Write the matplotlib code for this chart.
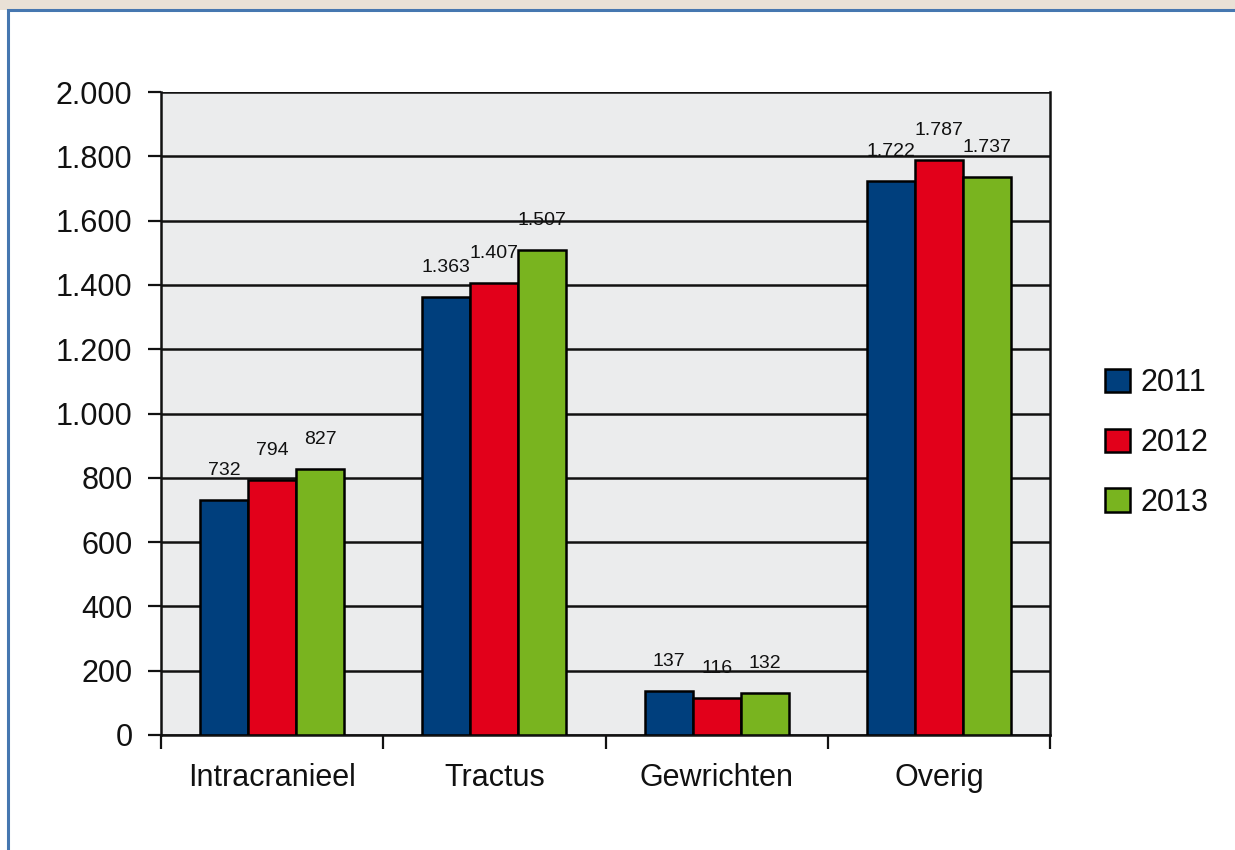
import matplotlib
matplotlib.use("Agg")
import matplotlib.pyplot as plt
import numpy as np
from matplotlib.patches import Rectangle
from matplotlib.ticker import FuncFormatter, FixedLocator

plt.rcParams['font.family'] = ['Liberation Sans', 'DejaVu Sans']

categories = ["Intracranieel", "Tractus", "Gewrichten", "Overig"]
years = ["2011", "2012", "2013"]
values_2011 = [732, 1363, 137, 1722]
values_2012 = [794, 1407, 116, 1787]
values_2013 = [827, 1507, 132, 1737]
series = [values_2011, values_2012, values_2013]
colors = ["#003f7d", "#e2001a", "#79b41f"]
yticks = [0, 200, 400, 600, 800, 1000, 1200, 1400, 1600, 1800, 2000]


def dutch(v):
    return f"{int(v):,}".replace(",", ".")


fig = plt.figure(figsize=(12.35, 8.5), dpi=100)
fig.patch.set_facecolor("white")

# page strip and frame around the chart
fig.patches.append(Rectangle((0, 0.988), 1, 0.012, transform=fig.transFigure,
                             facecolor="#e9e1d6", edgecolor="none", zorder=0))
fig.patches.append(Rectangle((0.0065, -0.01), 1.1, 0.9985, transform=fig.transFigure,
                             facecolor="none", edgecolor="#4677b0", linewidth=2.2, zorder=1))

ax = fig.add_axes([161 / 1235, 1 - 735 / 850, 889 / 1235, 643 / 850])
ax.set_facecolor("#ebeced")

x = np.arange(len(categories))
w = 0.216
for i, (vals, col) in enumerate(zip(series, colors)):
    pos = x + (i - 1) * w
    ax.bar(pos, vals, width=w, color=col, edgecolor="black", linewidth=1.8,
           label=years[i], zorder=3)
    for p, v in zip(pos, vals):
        ax.annotate(dutch(v), (p, v), xytext=(0, 18),
                    textcoords="offset points", ha="center", va="baseline",
                    fontsize=14, color="#111111", zorder=4)

ax.set_xlim(-0.5, 3.5)
ax.set_ylim(0, 2000)
ax.yaxis.set_major_locator(FixedLocator(yticks))
ax.yaxis.set_major_formatter(FuncFormatter(lambda v, _: dutch(v)))
ax.grid(axis="y", color="#111111", linewidth=1.8, zorder=1)
ax.set_axisbelow(True)

ax.set_xticks(x)
ax.set_xticklabels(categories, fontsize=22, color="#111111")
ax.tick_params(axis="x", length=0, pad=20)
ax.set_xticks(np.arange(-0.5, 4, 1), minor=True)
ax.tick_params(axis="x", which="minor", length=10, width=1.6, color="#111111")
ax.tick_params(axis="y", length=9.5, width=1.6, color="#111111", labelsize=22,
               labelcolor="#111111", pad=11)

for s in ["left", "right", "bottom"]:
    ax.spines[s].set_linewidth(1.8)
    ax.spines[s].set_color("#111111")
ax.spines["top"].set_visible(False)

leg = fig.legend(*ax.get_legend_handles_labels(), loc="center left",
                 bbox_to_anchor=(1105 / 1235, 1 - 443 / 850), frameon=False,
                 fontsize=22, handlelength=0.82, handleheight=0.82, handletextpad=0.35,
                 labelspacing=0.98, borderaxespad=0, borderpad=0)
for t in leg.get_texts():
    t.set_color("#111111")

fig.savefig("out.png", dpi=100)
